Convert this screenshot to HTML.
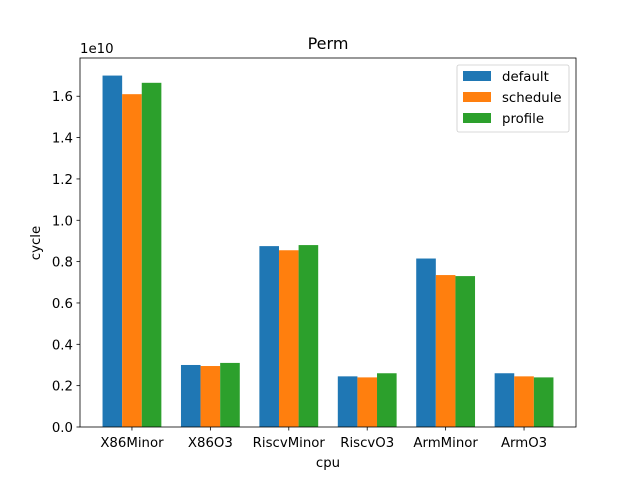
<!DOCTYPE html>
<html><head><meta charset="utf-8"><style>
body{margin:0;background:#fff;font-family:"Liberation Sans","DejaVu Sans",sans-serif;}
svg text{font-family:"DejaVu Sans","Liberation Sans",sans-serif;}
</style></head><body>
<svg id="c" width="640" height="480" xmlns="http://www.w3.org/2000/svg"></svg>
<script>
const categories=["X86Minor","X86O3","RiscvMinor","RiscvO3","ArmMinor","ArmO3"];
const seriesNames=["default","schedule","profile"];
const defaultVals=[1.70,0.30,0.875,0.245,0.815,0.26];
const scheduleVals=[1.61,0.295,0.855,0.24,0.735,0.245];
const profileVals=[1.665,0.31,0.88,0.26,0.73,0.24];
const yTicks=[0.0,0.2,0.4,0.6,0.8,1.0,1.2,1.4,1.6];
const colors=["#1f77b4","#ff7f0e","#2ca02c"];
const series=[defaultVals,scheduleVals,profileVals];
const L=80,R=576,T=58,B=427;
const xmin=-0.6625,xmax=5.6625,ymax=1.785;
const xs=v=>L+(v-xmin)/(xmax-xmin)*(R-L);
const ys=v=>B-v/ymax*(B-T);
const svg=document.getElementById('c');
const NS="http://www.w3.org/2000/svg";
function mk(t,a,txt){const e=document.createElementNS(NS,t);for(const k in a)e.setAttribute(k,a[k]);if(txt!==undefined)e.textContent=txt;svg.appendChild(e);return e;}
const w=0.25;
series.forEach((s,si)=>{s.forEach((v,i)=>{const x0=xs(i+(si-1)*w-w/2),x1=xs(i+(si-1)*w+w/2);
const r=mk('rect',{x:x0,y:ys(v),width:x1-x0,height:B-ys(v),fill:colors[si]});

});});
const fr=mk('rect',{x:L,y:T,width:R-L,height:B-T,fill:'none',stroke:'#000','stroke-width':0.8});

yTicks.forEach(v=>{const y=ys(v);mk('line',{x1:L-3.5,x2:L,y1:y,y2:y,stroke:'#000','stroke-width':0.8});
const t=mk('text',{x:L-7,y:y+5,'text-anchor':'end','font-size':13.3},v.toFixed(1));
});
categories.forEach((c,i)=>{const x=xs(i);mk('line',{x1:x,x2:x,y1:B,y2:B+3.5,stroke:'#000','stroke-width':0.8});
const t=mk('text',{x:x,y:B+20,'text-anchor':'middle','font-size':13.3},c);
});
let t=mk('text',{x:80,y:53,'font-size':13.3},'1e10');
t=mk('text',{x:328,y:49,'text-anchor':'middle','font-size':16},'Perm');
t=mk('text',{x:328,y:467,'text-anchor':'middle','font-size':13.3},'cpu');
t=mk('text',{x:40,y:243,'text-anchor':'middle','font-size':13.3,transform:'rotate(-90 40 243)'},'cycle');
const lg=mk('rect',{x:457,y:65,width:112,height:67,rx:2,fill:'#fff','fill-opacity':0.8,stroke:'#ccc','stroke-width':0.8});

seriesNames.forEach((n,i)=>{const y=71+i*21;mk('rect',{x:463,y:y,width:28,height:10,fill:colors[i]});
const e=mk('text',{x:502,y:y+10,'font-size':13.3},n);});
</script>
</body></html>
